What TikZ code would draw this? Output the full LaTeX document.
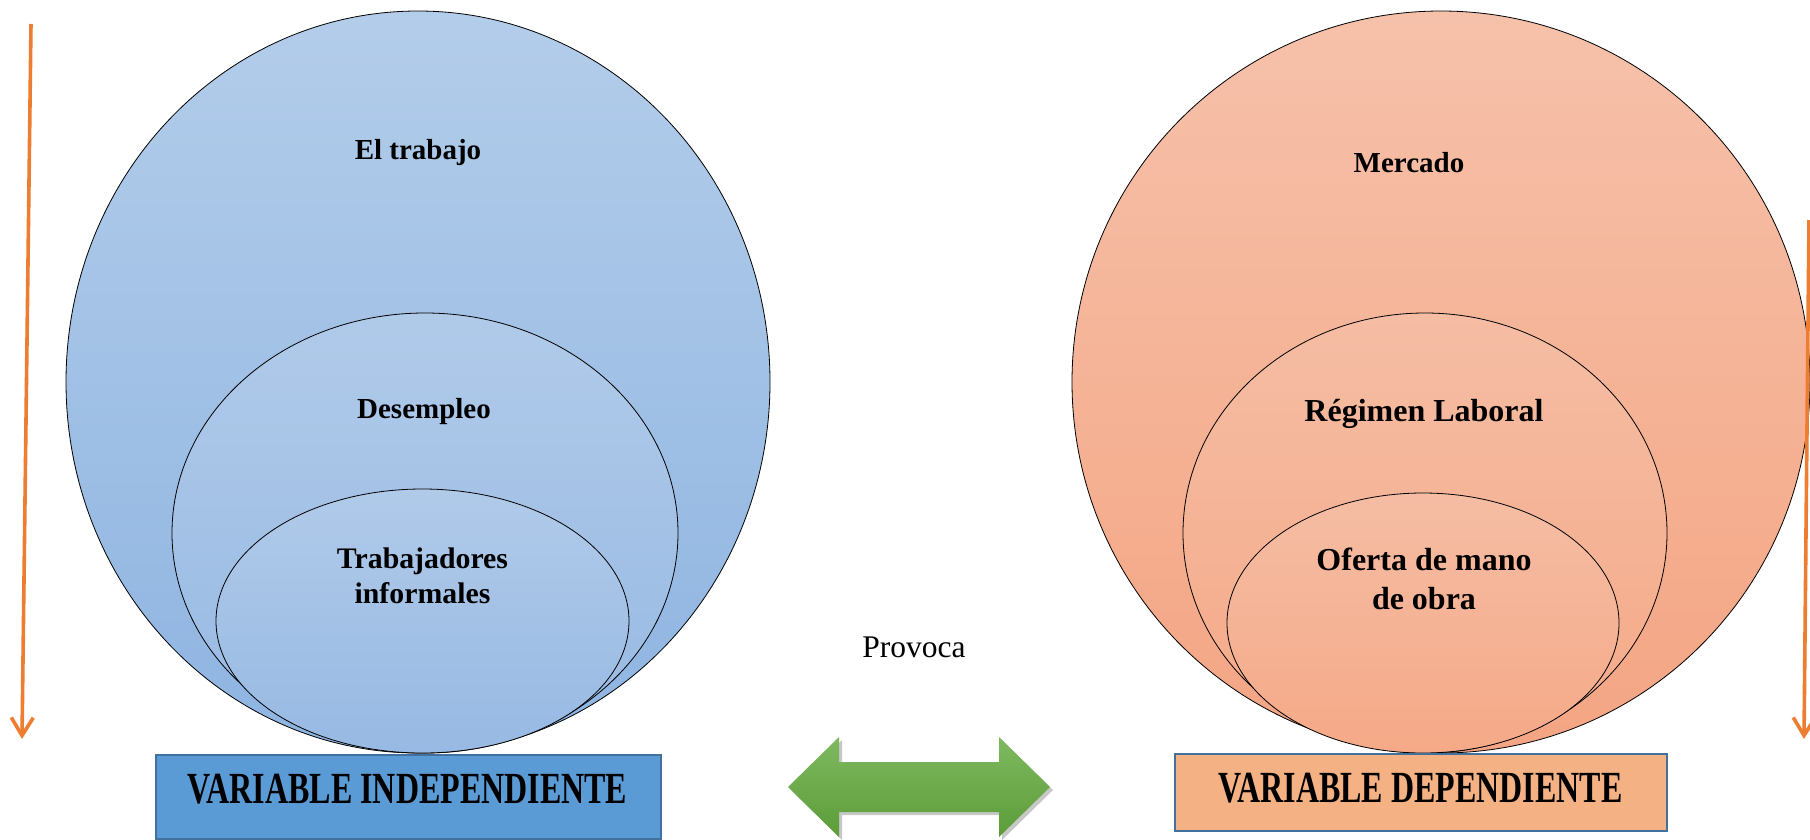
\documentclass[tikz,border=0pt]{standalone}
\usepackage{fontspec}
\setmainfont{Liberation Serif}
\usetikzlibrary{arrows.meta,shapes.geometric}
\definecolor{orangeln}{HTML}{ED7D31}
\definecolor{blueTop}{HTML}{B3CDEA}
\definecolor{blueBot}{HTML}{8EB4E1}
\definecolor{blueTopB}{HTML}{B0CAE9}
\definecolor{blueBotB}{HTML}{97B9E3}
\definecolor{salTop}{HTML}{F6C1AA}
\definecolor{salBot}{HTML}{F4A583}
\definecolor{salTopB}{HTML}{F5BDA4}
\definecolor{salBotB}{HTML}{F5A987}
\definecolor{boxBlue}{HTML}{5B9BD5}
\definecolor{boxSal}{HTML}{F4B183}
\definecolor{boxBorder}{HTML}{41719C}
\definecolor{grTop}{HTML}{7EB960}
\definecolor{grBot}{HTML}{5C9C38}
\begin{document}
\begin{tikzpicture}[x=1pt,y=-1pt,
  lbl/.style={font=\fontsize{29}{35}\selectfont\bfseries, align=center, inner sep=0, anchor=base},
  lblbig/.style={font=\fontsize{32}{39}\selectfont\bfseries, align=center, inner sep=0, anchor=base},
  varlbl/.style={font=\fontsize{32}{38}\selectfont\bfseries, inner sep=0, anchor=base},
  bubble/.style={ellipse, draw=black, line width=0.8pt, inner sep=0},
  varbox/.style={draw=boxBorder, line width=2pt, inner sep=0, anchor=north west},
  orangearrow/.style={draw=orangeln, line width=3.6pt, -{Straight Barb[length=18pt,width=22pt,line width=3.6pt]}},
]
\useasboundingbox (0,0) rectangle (1810,839);

% left bubbles
\node[bubble, minimum width=704pt, minimum height=742pt, top color=blueTop, bottom color=blueBot] (outerL) at (418,382) {};
\node[bubble, minimum width=506pt, minimum height=440pt, top color=blueTopB, bottom color=blueBotB] (midL) at (425,533) {};
\node[bubble, minimum width=413pt, minimum height=264pt, top color=blueTopB, bottom color=blueBotB] (innL) at (422.5,621) {};

% right bubbles
\node[bubble, minimum width=738pt, minimum height=742pt, top color=salTop, bottom color=salBot] (outerR) at (1441,382) {};
\node[bubble, minimum width=484pt, minimum height=440pt, top color=salTopB, bottom color=salBotB] (midR) at (1425,533) {};
\node[bubble, minimum width=392pt, minimum height=260pt, top color=salTopB, bottom color=salBotB] (innR) at (1423,623) {};

% labels in bubbles
\node[lbl] (tEl) at (418,159) {El trabajo};
\node[lbl] (tDes) at (424,418) {Desempleo};
\node[lbl, font=\fontsize{29.8}{35}\selectfont\bfseries] (tTrab) at (422.5,603) {Trabajadores\\informales};
\node[lbl] (tMer) at (1409,172) {Mercado};
\node[lblbig] (tReg) at (1424,421) {Régimen Laboral};
\node[lblbig] (tOf) at (1424,609) {Oferta de mano\\de obra};

% Provoca
\node[font=\fontsize{31.5}{36}\selectfont, inner sep=0, anchor=base] (tProv) at (914,657) {Provoca};

% boxes
\node[varbox, fill=boxBlue, minimum width=505pt, minimum height=84pt] (boxL) at (155,754) {};
\node[varbox, fill=boxSal, minimum width=492pt, minimum height=77pt] (boxR) at (1174,753) {};
\node[varlbl] (tVI) at (407.5,803) {\scalebox{1}[1.39]{VARIABLE INDEPENDIENTE}};
\node[varlbl] (tVD) at (1420.5,802) {\scalebox{1}[1.39]{VARIABLE DEPENDIENTE}};

% green double arrow
\fill[black, opacity=0.22] (791,790) -- (842,740) -- (842,765) -- (1002,765) -- (1002,740) -- (1053,790) -- (1002,840) -- (1002,815) -- (842,815) -- (842,840) -- cycle;
\path[top color=grTop, bottom color=grBot] (788,787) -- (839,737) -- (839,762) -- (999,762) -- (999,737) -- (1050,787) -- (999,837) -- (999,812) -- (839,812) -- (839,837) -- cycle;

% orange arrows
\coordinate (la1) at (31,24);
\coordinate (la2) at (22,739);
\coordinate (ra1) at (1809,220);
\coordinate (ra2) at (1804,739);
\draw[orangearrow] (la1) -- (la2);
\draw[orangearrow] (ra1) -- (ra2);
\end{tikzpicture}
\end{document}
